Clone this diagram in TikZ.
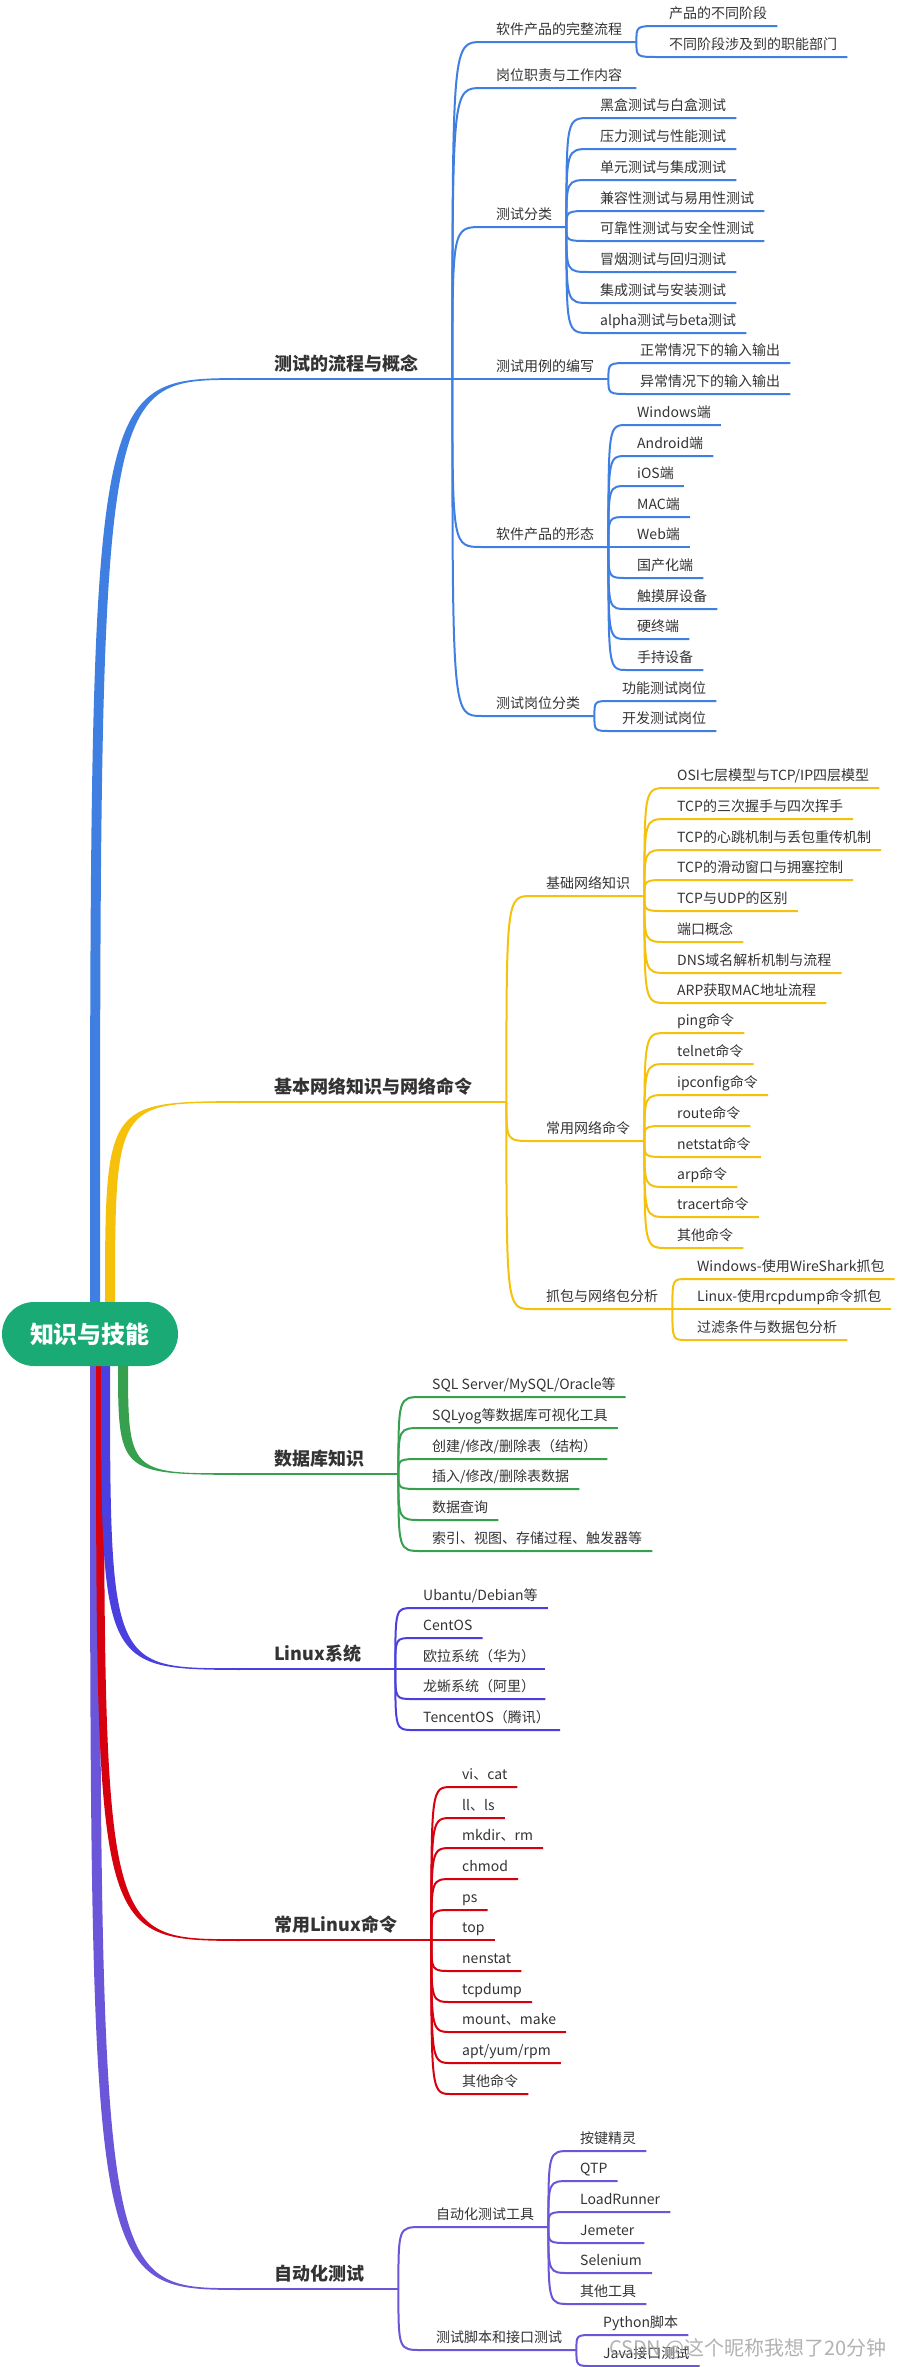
\documentclass[tikz,border=0pt]{standalone}
\usepackage{fontspec}
\setmainfont{Noto Sans CJK SC}
\definecolor{cA}{HTML}{3E7FE1}
\definecolor{cB}{HTML}{F5C10A}
\definecolor{cC}{HTML}{37A04F}
\definecolor{cD}{HTML}{4A40E0}
\definecolor{cE}{HTML}{D7000F}
\definecolor{cF}{HTML}{6B55D8}
\definecolor{rootgreen}{HTML}{1AAA76}
\definecolor{txt}{HTML}{333333}
\begin{document}
\begin{tikzpicture}[x=1pt, y=-1pt,
    leaftopic/.style={anchor=south west, inner xsep=10pt, inner ysep=4.5pt, text height=11pt, text depth=2.5pt, text=txt, font=\fontsize{14}{16}\selectfont},
    subtopic/.style={leaftopic, inner xsep=14pt},
    maintopic/.style={anchor=south west, inner xsep=34pt, inner ysep=5pt, text height=14pt, text depth=3pt, text=txt, font=\fontsize{18}{20}\selectfont\bfseries},
    link/.style={to path={.. controls (\tikztostart |- \tikztotarget) .. (\tikztotarget)}},
    wire/.style={draw=#1, line width=2pt},
    stamp/.style={text=gray!75, opacity=0.8, font=\fontsize{20}{22}\selectfont},
  ]
      \useasboundingbox (0,0) rectangle (901,2367);

      % main topics
      \node[maintopic] (flow) at (240,379) {测试的流程与概念};
      \node[maintopic] (net) at (240,1102) {基本网络知识与网络命令};
      \node[maintopic] (db) at (240,1474) {数据库知识};
      \node[maintopic] (os) at (240,1669) {Linux系统};
      \node[maintopic] (cmd) at (240,1940) {常用Linux命令};
      \node[maintopic] (auto) at (240,2289) {自动化测试};

      \coordinate (rA1) at (90,1308); \coordinate (rA2) at (100,1308);
      \coordinate (rB1) at (105,1308); \coordinate (rB2) at (115,1308);
      \coordinate (rF1) at (90,1360); \coordinate (rF2) at (100,1360);
      \coordinate (rE1) at (96,1360); \coordinate (rE2) at (104,1360);
      \coordinate (rD1) at (101,1360); \coordinate (rD2) at (110,1360);
      \coordinate (rC1) at (118,1360); \coordinate (rC2) at (128,1360);

      \fill[cA] (rA1) .. controls (rA1 |- flow.south west) .. ([yshift=1pt]flow.south west) -- ([yshift=-1pt]flow.south west) .. controls (rA2 |- flow.south west) .. (rA2) -- cycle;
      \fill[cB] (rB1) .. controls (rB1 |- net.south west) .. ([yshift=1pt]net.south west) -- ([yshift=-1pt]net.south west) .. controls (rB2 |- net.south west) .. (rB2) -- cycle;
      \fill[cF] (rF1) .. controls (rF1 |- auto.south west) .. ([yshift=-1pt]auto.south west) -- ([yshift=1pt]auto.south west) .. controls (rF2 |- auto.south west) .. (rF2) -- cycle;
      \fill[cE] (rE1) .. controls (rE1 |- cmd.south west) .. ([yshift=-1pt]cmd.south west) -- ([yshift=1pt]cmd.south west) .. controls (rE2 |- cmd.south west) .. (rE2) -- cycle;
      \fill[cD] (rD1) .. controls (rD1 |- os.south west) .. ([yshift=-1pt]os.south west) -- ([yshift=1pt]os.south west) .. controls (rD2 |- os.south west) .. (rD2) -- cycle;
      \fill[cC] (rC1) .. controls (rC1 |- db.south west) .. ([yshift=-1pt]db.south west) -- ([yshift=1pt]db.south west) .. controls (rC2 |- db.south west) .. (rC2) -- cycle;

      \node[fill=rootgreen, rounded corners=32pt, minimum width=176pt, minimum height=64pt, text=white, font=\fontsize{24}{26}\selectfont\bfseries] (root) at (90,1334) {知识与技能};

      \draw[wire=cA] (flow.south west) -- (flow.south east);
      \draw[wire=cB] (net.south west) -- (net.south east);
      \draw[wire=cC] (db.south west) -- (db.south east);
      \draw[wire=cD] (os.south west) -- (os.south east);
      \draw[wire=cE] (cmd.south west) -- (cmd.south east);
      \draw[wire=cF] (auto.south west) -- (auto.south east);


      % 测试的流程与概念
      \node[subtopic] (proc) at (482,42) {软件产品的完整流程};
      \node[subtopic] (duty) at (482,88) {岗位职责与工作内容};
      \node[subtopic] (kinds) at (482,227) {测试分类};
      \node[subtopic] (cases) at (482,379) {测试用例的编写};
      \node[subtopic] (forms) at (482,547) {软件产品的形态};
      \node[subtopic] (posts) at (482,716) {测试岗位分类};
      \draw[wire=cA] (flow.south east) to[link] (proc.south west) -- (proc.south east);
      \draw[wire=cA] (flow.south east) to[link] (duty.south west) -- (duty.south east);
      \draw[wire=cA] (flow.south east) to[link] (kinds.south west) -- (kinds.south east);
      \draw[wire=cA] (flow.south east) to[link] (cases.south west) -- (cases.south east);
      \draw[wire=cA] (flow.south east) to[link] (forms.south west) -- (forms.south east);
      \draw[wire=cA] (flow.south east) to[link] (posts.south west) -- (posts.south east);

      \node[leaftopic] (proc1) at (659,26) {产品的不同阶段};
      \node[leaftopic] (proc2) at (659,57) {不同阶段涉及到的职能部门};
      \draw[wire=cA] (proc.south east) to[link] (proc1.south west) -- (proc1.south east);
      \draw[wire=cA] (proc.south east) to[link] (proc2.south west) -- (proc2.south east);

      \node[leaftopic] (kinds1) at (590,118) {黑盒测试与白盒测试};
      \node[leaftopic] (kinds2) at (590,149) {压力测试与性能测试};
      \node[leaftopic] (kinds3) at (590,180) {单元测试与集成测试};
      \node[leaftopic] (kinds4) at (590,211) {兼容性测试与易用性测试};
      \node[leaftopic] (kinds5) at (590,241) {可靠性测试与安全性测试};
      \node[leaftopic] (kinds6) at (590,272) {冒烟测试与回归测试};
      \node[leaftopic] (kinds7) at (590,303) {集成测试与安装测试};
      \node[leaftopic] (kinds8) at (590,333) {alpha测试与beta测试};
      \draw[wire=cA] (kinds.south east) to[link] (kinds1.south west) -- (kinds1.south east);
      \draw[wire=cA] (kinds.south east) to[link] (kinds2.south west) -- (kinds2.south east);
      \draw[wire=cA] (kinds.south east) to[link] (kinds3.south west) -- (kinds3.south east);
      \draw[wire=cA] (kinds.south east) to[link] (kinds4.south west) -- (kinds4.south east);
      \draw[wire=cA] (kinds.south east) to[link] (kinds5.south west) -- (kinds5.south east);
      \draw[wire=cA] (kinds.south east) to[link] (kinds6.south west) -- (kinds6.south east);
      \draw[wire=cA] (kinds.south east) to[link] (kinds7.south west) -- (kinds7.south east);
      \draw[wire=cA] (kinds.south east) to[link] (kinds8.south west) -- (kinds8.south east);

      \node[leaftopic] (cases1) at (630,363) {正常情况下的输入输出};
      \node[leaftopic] (cases2) at (630,394) {异常情况下的输入输出};
      \draw[wire=cA] (cases.south east) to[link] (cases1.south west) -- (cases1.south east);
      \draw[wire=cA] (cases.south east) to[link] (cases2.south west) -- (cases2.south east);

      \node[leaftopic] (forms1) at (627,425) {Windows端};
      \node[leaftopic] (forms2) at (627,456) {Android端};
      \node[leaftopic] (forms3) at (627,486) {iOS端};
      \node[leaftopic] (forms4) at (627,517) {MAC端};
      \node[leaftopic] (forms5) at (627,547) {Web端};
      \node[leaftopic] (forms6) at (627,578) {国产化端};
      \node[leaftopic] (forms7) at (627,609) {触摸屏设备};
      \node[leaftopic] (forms8) at (627,639) {硬终端};
      \node[leaftopic] (forms9) at (627,670) {手持设备};
      \draw[wire=cA] (forms.south east) to[link] (forms1.south west) -- (forms1.south east);
      \draw[wire=cA] (forms.south east) to[link] (forms2.south west) -- (forms2.south east);
      \draw[wire=cA] (forms.south east) to[link] (forms3.south west) -- (forms3.south east);
      \draw[wire=cA] (forms.south east) to[link] (forms4.south west) -- (forms4.south east);
      \draw[wire=cA] (forms.south east) to[link] (forms5.south west) -- (forms5.south east);
      \draw[wire=cA] (forms.south east) to[link] (forms6.south west) -- (forms6.south east);
      \draw[wire=cA] (forms.south east) to[link] (forms7.south west) -- (forms7.south east);
      \draw[wire=cA] (forms.south east) to[link] (forms8.south west) -- (forms8.south east);
      \draw[wire=cA] (forms.south east) to[link] (forms9.south west) -- (forms9.south east);

      \node[leaftopic] (posts1) at (612,701) {功能测试岗位};
      \node[leaftopic] (posts2) at (612,731) {开发测试岗位};
      \draw[wire=cA] (posts.south east) to[link] (posts1.south west) -- (posts1.south east);
      \draw[wire=cA] (posts.south east) to[link] (posts2.south west) -- (posts2.south east);


      % 基本网络知识与网络命令
      \node[subtopic] (basic) at (532,896) {基础网络知识};
      \node[subtopic] (cmds) at (532,1141) {常用网络命令};
      \node[subtopic] (capture) at (532,1309) {抓包与网络包分析};
      \draw[wire=cB] (net.south east) to[link] (basic.south west) -- (basic.south east);
      \draw[wire=cB] (net.south east) to[link] (cmds.south west) -- (cmds.south east);
      \draw[wire=cB] (net.south east) to[link] (capture.south west) -- (capture.south east);

      \node[leaftopic] (basic1) at (667,788) {OSI七层模型与TCP/IP四层模型};
      \node[leaftopic] (basic2) at (667,819) {TCP的三次握手与四次挥手};
      \node[leaftopic] (basic3) at (667,850) {TCP的心跳机制与丢包重传机制};
      \node[leaftopic] (basic4) at (667,880) {TCP的滑动窗口与拥塞控制};
      \node[leaftopic] (basic5) at (667,911) {TCP与UDP的区别};
      \node[leaftopic] (basic6) at (667,942) {端口概念};
      \node[leaftopic] (basic7) at (667,973) {DNS域名解析机制与流程};
      \node[leaftopic] (basic8) at (667,1003) {ARP获取MAC地址流程};
      \draw[wire=cB] (basic.south east) to[link] (basic1.south west) -- (basic1.south east);
      \draw[wire=cB] (basic.south east) to[link] (basic2.south west) -- (basic2.south east);
      \draw[wire=cB] (basic.south east) to[link] (basic3.south west) -- (basic3.south east);
      \draw[wire=cB] (basic.south east) to[link] (basic4.south west) -- (basic4.south east);
      \draw[wire=cB] (basic.south east) to[link] (basic5.south west) -- (basic5.south east);
      \draw[wire=cB] (basic.south east) to[link] (basic6.south west) -- (basic6.south east);
      \draw[wire=cB] (basic.south east) to[link] (basic7.south west) -- (basic7.south east);
      \draw[wire=cB] (basic.south east) to[link] (basic8.south west) -- (basic8.south east);

      \node[leaftopic] (cmds1) at (667,1033) {ping命令};
      \node[leaftopic] (cmds2) at (667,1064) {telnet命令};
      \node[leaftopic] (cmds3) at (667,1095) {ipconfig命令};
      \node[leaftopic] (cmds4) at (667,1126) {route命令};
      \node[leaftopic] (cmds5) at (667,1157) {netstat命令};
      \node[leaftopic] (cmds6) at (667,1187) {arp命令};
      \node[leaftopic] (cmds7) at (667,1217) {tracert命令};
      \node[leaftopic] (cmds8) at (667,1248) {其他命令};
      \draw[wire=cB] (cmds.south east) to[link] (cmds1.south west) -- (cmds1.south east);
      \draw[wire=cB] (cmds.south east) to[link] (cmds2.south west) -- (cmds2.south east);
      \draw[wire=cB] (cmds.south east) to[link] (cmds3.south west) -- (cmds3.south east);
      \draw[wire=cB] (cmds.south east) to[link] (cmds4.south west) -- (cmds4.south east);
      \draw[wire=cB] (cmds.south east) to[link] (cmds5.south west) -- (cmds5.south east);
      \draw[wire=cB] (cmds.south east) to[link] (cmds6.south west) -- (cmds6.south east);
      \draw[wire=cB] (cmds.south east) to[link] (cmds7.south west) -- (cmds7.south east);
      \draw[wire=cB] (cmds.south east) to[link] (cmds8.south west) -- (cmds8.south east);

      \node[leaftopic] (capture1) at (687,1279) {Windows-使用WireShark抓包};
      \node[leaftopic] (capture2) at (687,1309) {Linux-使用rcpdump命令抓包};
      \node[leaftopic] (capture3) at (687,1340) {过滤条件与数据包分析};
      \draw[wire=cB] (capture.south east) to[link] (capture1.south west) -- (capture1.south east);
      \draw[wire=cB] (capture.south east) to[link] (capture2.south west) -- (capture2.south east);
      \draw[wire=cB] (capture.south east) to[link] (capture3.south west) -- (capture3.south east);


      % 数据库知识
      \node[leaftopic] (db1) at (422,1397) {SQL Server/MySQL/Oracle等};
      \node[leaftopic] (db2) at (422,1428) {SQLyog等数据库可视化工具};
      \node[leaftopic] (db3) at (422,1459) {创建/修改/删除表（结构）};
      \node[leaftopic] (db4) at (422,1489) {插入/修改/删除表数据};
      \node[leaftopic] (db5) at (422,1520) {数据查询};
      \node[leaftopic] (db6) at (422,1551) {索引、视图、存储过程、触发器等};
      \draw[wire=cC] (db.south east) to[link] (db1.south west) -- (db1.south east);
      \draw[wire=cC] (db.south east) to[link] (db2.south west) -- (db2.south east);
      \draw[wire=cC] (db.south east) to[link] (db3.south west) -- (db3.south east);
      \draw[wire=cC] (db.south east) to[link] (db4.south west) -- (db4.south east);
      \draw[wire=cC] (db.south east) to[link] (db5.south west) -- (db5.south east);
      \draw[wire=cC] (db.south east) to[link] (db6.south west) -- (db6.south east);


      % Linux系统
      \node[leaftopic] (os1) at (413,1608) {Ubantu/Debian等};
      \node[leaftopic] (os2) at (413,1638) {CentOS};
      \node[leaftopic] (os3) at (413,1669) {欧拉系统（华为）};
      \node[leaftopic] (os4) at (413,1699) {龙蜥系统（阿里）};
      \node[leaftopic] (os5) at (413,1730) {TencentOS（腾讯）};
      \draw[wire=cD] (os.south east) to[link] (os1.south west) -- (os1.south east);
      \draw[wire=cD] (os.south east) to[link] (os2.south west) -- (os2.south east);
      \draw[wire=cD] (os.south east) to[link] (os3.south west) -- (os3.south east);
      \draw[wire=cD] (os.south east) to[link] (os4.south west) -- (os4.south east);
      \draw[wire=cD] (os.south east) to[link] (os5.south west) -- (os5.south east);


      % 常用Linux命令
      \node[leaftopic] (cmd1) at (452,1787) {vi、cat};
      \node[leaftopic] (cmd2) at (452,1818) {ll、ls};
      \node[leaftopic] (cmd3) at (452,1848) {mkdir、rm};
      \node[leaftopic] (cmd4) at (452,1879) {chmod};
      \node[leaftopic] (cmd5) at (452,1910) {ps};
      \node[leaftopic] (cmd6) at (452,1940) {top};
      \node[leaftopic] (cmd7) at (452,1971) {nenstat};
      \node[leaftopic] (cmd8) at (452,2002) {tcpdump};
      \node[leaftopic] (cmd9) at (452,2032) {mount、make};
      \node[leaftopic] (cmd10) at (452,2063) {apt/yum/rpm};
      \node[leaftopic] (cmd11) at (452,2094) {其他命令};
      \draw[wire=cE] (cmd.south east) to[link] (cmd1.south west) -- (cmd1.south east);
      \draw[wire=cE] (cmd.south east) to[link] (cmd2.south west) -- (cmd2.south east);
      \draw[wire=cE] (cmd.south east) to[link] (cmd3.south west) -- (cmd3.south east);
      \draw[wire=cE] (cmd.south east) to[link] (cmd4.south west) -- (cmd4.south east);
      \draw[wire=cE] (cmd.south east) to[link] (cmd5.south west) -- (cmd5.south east);
      \draw[wire=cE] (cmd.south east) to[link] (cmd6.south west) -- (cmd6.south east);
      \draw[wire=cE] (cmd.south east) to[link] (cmd7.south west) -- (cmd7.south east);
      \draw[wire=cE] (cmd.south east) to[link] (cmd8.south west) -- (cmd8.south east);
      \draw[wire=cE] (cmd.south east) to[link] (cmd9.south west) -- (cmd9.south east);
      \draw[wire=cE] (cmd.south east) to[link] (cmd10.south west) -- (cmd10.south east);
      \draw[wire=cE] (cmd.south east) to[link] (cmd11.south west) -- (cmd11.south east);


      % 自动化测试
      \node[subtopic] (tool) at (422,2227) {自动化测试工具};
      \node[subtopic] (script) at (422,2350) {测试脚本和接口测试};
      \draw[wire=cF] (auto.south east) to[link] (tool.south west) -- (tool.south east);
      \draw[wire=cF] (auto.south east) to[link] (script.south west) -- (script.south east);

      \node[leaftopic] (tool1) at (570,2151) {按键精灵};
      \node[leaftopic] (tool2) at (570,2181) {QTP};
      \node[leaftopic] (tool3) at (570,2212) {LoadRunner};
      \node[leaftopic] (tool4) at (570,2243) {Jemeter};
      \node[leaftopic] (tool5) at (570,2273) {Selenium};
      \node[leaftopic] (tool6) at (570,2304) {其他工具};
      \draw[wire=cF] (tool.south east) to[link] (tool1.south west) -- (tool1.south east);
      \draw[wire=cF] (tool.south east) to[link] (tool2.south west) -- (tool2.south east);
      \draw[wire=cF] (tool.south east) to[link] (tool3.south west) -- (tool3.south east);
      \draw[wire=cF] (tool.south east) to[link] (tool4.south west) -- (tool4.south east);
      \draw[wire=cF] (tool.south east) to[link] (tool5.south west) -- (tool5.south east);
      \draw[wire=cF] (tool.south east) to[link] (tool6.south west) -- (tool6.south east);

      \node[leaftopic] (script1) at (593,2335) {Python脚本};
      \node[leaftopic] (script2) at (593,2366) {Java接口测试};
      \draw[wire=cF] (script.south east) to[link] (script1.south west) -- (script1.south east);
      \draw[wire=cF] (script.south east) to[link] (script2.south west) -- (script2.south east);

      \node[stamp] (sign) at (748,2349) {CSDN @这个昵称我想了20分钟};
    \end{tikzpicture}
\end{document}
